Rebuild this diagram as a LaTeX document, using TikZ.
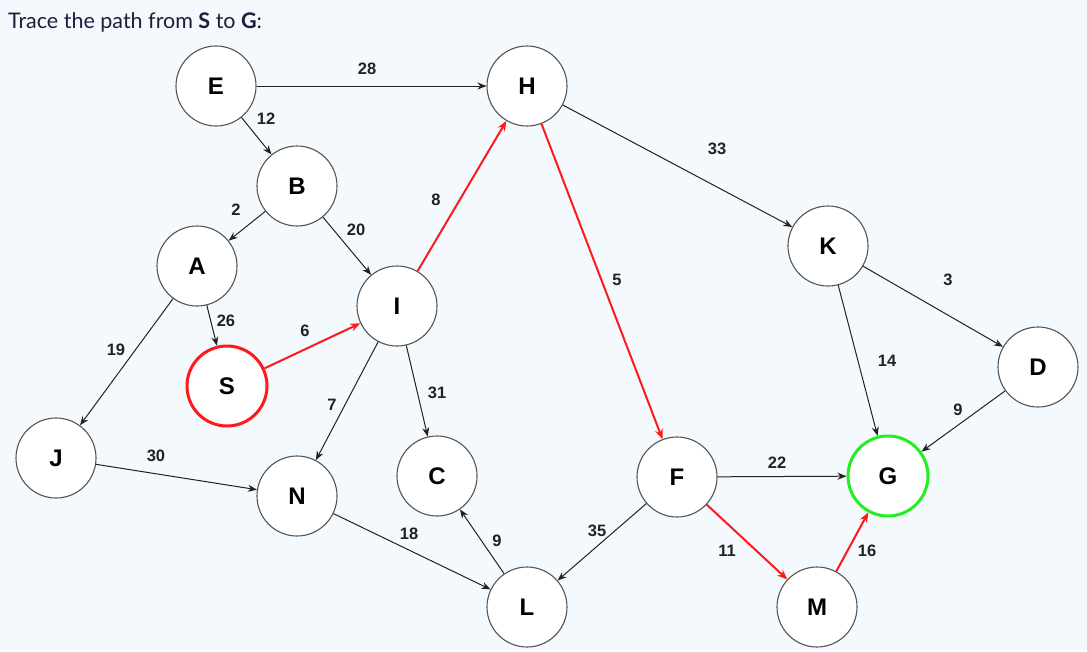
\documentclass[tikz,border=0pt]{standalone}
\usepackage{fontspec}
\setmainfont{Liberation Sans}
\newfontfamily\titlefont{Lato}
\usetikzlibrary{arrows.meta}
\definecolor{Paper}{HTML}{F3F9FD}
\definecolor{Ink}{HTML}{222222}
\definecolor{Rim}{HTML}{555555}
\definecolor{Path}{HTML}{FF1A1A}
\definecolor{Goal}{HTML}{22EE22}
\definecolor{Navy}{HTML}{1B1F3B}

\begin{document}
\begin{tikzpicture}[
    x=1pt, y=-1pt,
    vertex/.style={circle, draw=Rim, line width=1.1pt, fill=white, minimum size=80pt,
      inner sep=0pt, font=\fontsize{24}{24}\selectfont\bfseries},
    start/.style={vertex, draw=Path, line width=3pt},
    goal/.style={vertex, draw=Goal, line width=3pt},
    edge/.style={-{Stealth[length=9pt, width=7pt]}, line width=1pt, draw=Ink},
    hot/.style={-{Stealth[length=10pt, width=8pt]}, line width=2pt, draw=Path},
    wt/.style={font=\fontsize{16.5}{16.5}\selectfont\bfseries, text=Ink, inner sep=0pt}
  ]
    \fill[Paper] (0,0) rectangle (1087,651);
    \useasboundingbox (0,0) rectangle (1087,651);

    \node[anchor=base west, inner sep=0pt, text=Navy,
      font=\titlefont\fontsize{21.5}{22}\selectfont] (title) at (8,28)
      {Trace the path from \textbf{S} to \textbf{G}:};

    % vertices
    \node[vertex] (E) at (216,86) {E};
    \node[vertex] (H) at (527,86) {H};
    \node[vertex] (B) at (297,186) {B};
    \node[vertex] (A) at (197,266) {A};
    \node[vertex] (I) at (397,306) {I};
    \node[vertex] (K) at (828,246) {K};
    \node[start]  (S) at (227,386) {S};
    \node[vertex] (D) at (1038,367) {D};
    \node[vertex] (J) at (56,458) {J};
    \node[vertex] (N) at (297,496) {N};
    \node[vertex] (C) at (437,476) {C};
    \node[vertex] (F) at (677,477) {F};
    \node[goal]   (G) at (888,476) {G};
    \node[vertex] (L) at (527,607) {L};
    \node[vertex] (M) at (817,607) {M};

    % connectors
    \draw[edge] (E) -- (H);
    \draw[edge] (E) -- (B);
    \draw[edge] (B) -- (A);
    \draw[edge] (B) -- (I);
    \draw[edge] (A) -- (S);
    \draw[edge] (A) -- (J);
    \draw[edge] (H) -- (K);
    \draw[edge] (I) -- (N);
    \draw[edge] (I) -- (C);
    \draw[edge] (J) -- (N);
    \draw[edge] (N) -- (L);
    \draw[edge] (L) -- (C);
    \draw[edge] (F) -- (L);
    \draw[edge] (F) -- (G);
    \draw[edge] (K) -- (G);
    \draw[edge] (K) -- (D);
    \draw[edge] (D) -- (G);
    \draw[hot] (S) -- (I);
    \draw[hot] (I) -- (H);
    \draw[hot] (H) -- (F);
    \draw[hot] (F) -- (M);
    \draw[hot] (M) -- (G);

    % weights
    \node[wt] (w28) at (367,69) {28};
    \node[wt] (w12) at (266,119) {12};
    \node[wt] (w2) at (236,210) {2};
    \node[wt] (w20) at (356,230) {20};
    \node[wt] (w8) at (436,200) {8};
    \node[wt] (w26) at (226,321) {26};
    \node[wt] (w6) at (305,331) {6};
    \node[wt] (w19) at (116,350) {19};
    \node[wt] (w7) at (332,405) {7};
    \node[wt] (w31) at (437,393) {31};
    \node[wt] (w30) at (156,456) {30};
    \node[wt] (w18) at (409,534) {18};
    \node[wt] (w9a) at (497,541) {9};
    \node[wt] (w35) at (597,531) {35};
    \node[wt] (w5) at (617,280) {5};
    \node[wt] (w33) at (717,149) {33};
    \node[wt] (w3) at (948,280) {3};
    \node[wt] (w14) at (887,361) {14};
    \node[wt] (w9b) at (958,410) {9};
    \node[wt] (w22) at (777,463) {22};
    \node[wt] (w11) at (727,551) {11};
    \node[wt] (w16) at (867,551) {16};
\end{tikzpicture}
\end{document}
